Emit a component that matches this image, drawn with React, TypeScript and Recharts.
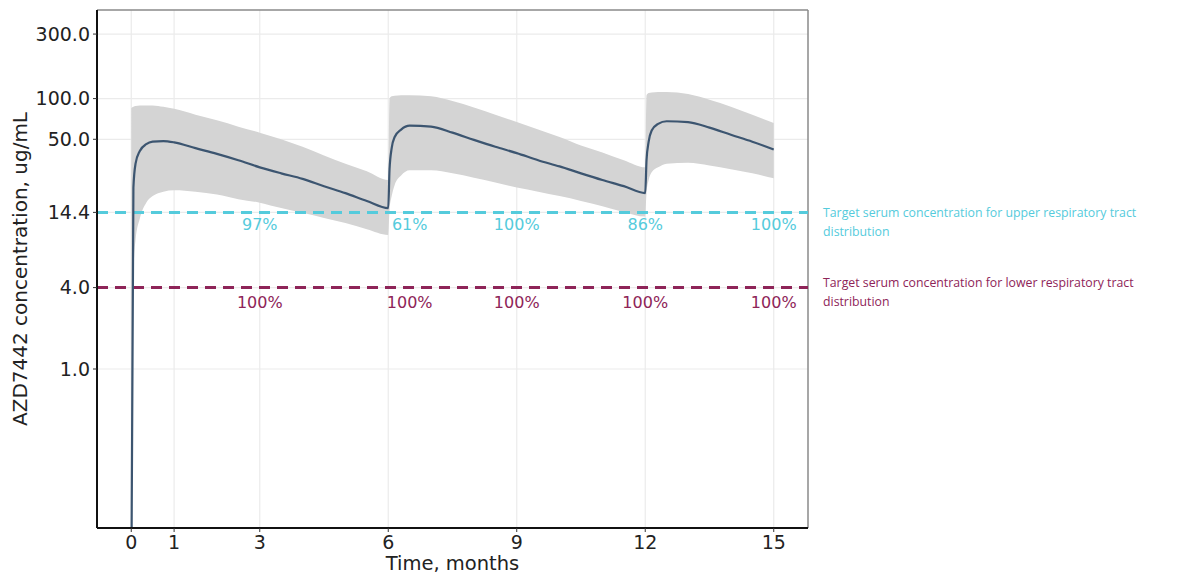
import React from 'react';
import {
  ComposedChart, Line, Area, XAxis, YAxis, CartesianGrid, ReferenceLine, ReferenceDot,
} from 'recharts';

const timeMonths = [
  0, 0.05, 0.1, 0.2, 0.35, 0.5, 0.75, 1, 1.5, 2, 2.5, 3, 3.5, 4, 4.5, 5, 5.5, 6,
  6.03, 6.08, 6.15, 6.3, 6.5, 7, 7.5, 8, 8.5, 9, 9.5, 10, 10.5, 11, 11.5, 12,
  12.03, 12.08, 12.15, 12.3, 12.5, 13, 13.5, 14, 14.5, 15,
];
const medianConc = [
  0.02, 22, 33, 41, 46, 48, 48.5, 47.5, 43, 39, 35, 31, 28, 25.5, 22.5, 20, 17.5, 15.5,
  30, 43, 52, 59, 63, 62, 56, 49.5, 44, 39.5, 35, 31.5, 28, 25, 22.5, 20,
  35, 48, 58, 65, 68, 67, 61, 54, 48, 42,
];
const lowerConc = [
  0.02, 5, 9, 13, 17, 19, 20.5, 21, 20.5, 19.5, 18, 17, 15.5, 14.3, 13.1, 12, 10.8, 9.8,
  15, 19, 23, 27, 29.5, 29.5, 28, 26, 24, 22, 20.5, 19, 17.5, 16, 14.5, 13.4,
  20, 25, 28.5, 31, 33, 33.5, 32, 30, 28, 25.7,
];
const upperConc = [
  85, 87, 88, 89, 89, 89, 87, 84, 76, 69, 62, 56, 50, 44, 38, 33, 29, 25,
  100, 104, 105, 106, 106, 104, 96, 86, 76, 67, 59, 52, 45, 40, 35, 31,
  106, 110, 111, 112, 112, 108, 98, 87, 76, 66,
];

const xTicks = [0, 1, 3, 6, 9, 12, 15];
const yTicks = [1, 4, 14.4, 50, 100, 300];
const upperTarget = 14.4;
const lowerTarget = 4;
const pctMonths = [3, 6.5, 9, 12, 15];
const upperTargetPct = ['97%', '61%', '100%', '86%', '100%'];
const lowerTargetPct = ['100%', '100%', '100%', '100%', '100%'];
const upperTargetText = ['Target serum concentration for upper respiratory tract', 'distribution'];
const lowerTargetText = ['Target serum concentration for lower respiratory tract', 'distribution'];

const data = timeMonths.map((t, i) => ({
  t,
  median: medianConc[i],
  band: [lowerConc[i], upperConc[i]],
}));

const CYAN = '#55cbdc';
const MAROON = '#8e2458';
const TICK_FONT = 'DejaVu Sans, sans-serif';
const SIDE_FONT = '"Open Sans", sans-serif';

const sideLabel = (lines: string[], color: string, dy0: number) => (props: any) => {
  const vb = props.viewBox || {};
  const x = (vb.x || 0) + (vb.width || 0) + 15;
  const y = vb.y || 0;
  return (
    <g>
      {lines.map((s, i) => (
        <text key={i} x={x} y={y + dy0 + i * 19} fill={color} fontSize={12.3}
          fontFamily={SIDE_FONT} dominantBaseline="central">{s}</text>
      ))}
    </g>
  );
};

export default function App() {
  return (
    <div style={{ position: 'absolute', left: 0, top: 0, background: '#fff' }}>
      <ComposedChart width={1192} height={575} data={data}
        margin={{ top: 10, right: 384, bottom: 0, left: 0 }}>
        <CartesianGrid stroke="#ebebeb" strokeWidth={1.2}
          horizontalValues={yTicks} verticalValues={xTicks} />
        <XAxis dataKey="t" type="number" domain={[-0.8, 15.8]} ticks={xTicks}
          allowDataOverflow height={47} interval={0}
          tick={{ fill: '#222', fontSize: 19, fontFamily: TICK_FONT }}
          tickLine={{ stroke: '#333' }} tickSize={4} tickMargin={4}
          axisLine={{ stroke: '#111', strokeWidth: 2 }}
          label={{
            content: (p: any) => {
              const vb = p.viewBox || {};
              return (
                <text x={vb.x + vb.width / 2} y={vb.y + 42} textAnchor="middle"
                  fill="#222" fontSize={19.5} fontFamily={TICK_FONT}>Time, months</text>
              );
            },
          }}
        />
        <YAxis type="number" scale="log" domain={[0.0667, 452]} ticks={yTicks}
          allowDataOverflow width={97} interval={0}
          tickFormatter={(v: number) => v.toFixed(1)}
          tick={{ fill: '#222', fontSize: 19, fontFamily: TICK_FONT }}
          tickLine={{ stroke: '#333' }} tickSize={4} tickMargin={3}
          axisLine={{ stroke: '#111', strokeWidth: 2 }}
          label={{
            content: (p: any) => {
              const vb = p.viewBox || {};
              const cx = 20;
              const cy = vb.y + vb.height / 2;
              return (
                <text x={cx} y={cy} textAnchor="middle" dominantBaseline="central"
                  transform={`rotate(-90 ${cx} ${cy})`}
                  fill="#222" fontSize={20} fontFamily={TICK_FONT}>AZD7442 concentration, ug/mL</text>
              );
            },
          }}
        />
        <Area dataKey="band" type="monotone" fill="#d4d4d4" fillOpacity={1} stroke="none"
          isAnimationActive={false} />
        <ReferenceLine y={452} stroke="#8a8a8a" strokeWidth={1.5} ifOverflow="visible" />
        <ReferenceLine x={15.8} stroke="#8a8a8a" strokeWidth={1.5} ifOverflow="visible" />
        <ReferenceLine y={upperTarget} stroke={CYAN} strokeWidth={3} strokeDasharray="11 7"
          ifOverflow="visible"
          label={{ content: sideLabel(upperTargetText, CYAN, 0) }} />
        <ReferenceLine y={lowerTarget} stroke={MAROON} strokeWidth={3} strokeDasharray="11 7"
          ifOverflow="visible"
          label={{ content: sideLabel(lowerTargetText, MAROON, -5) }} />
        {pctMonths.map((m, i) => (
          <ReferenceDot key={'u' + i} x={m} y={upperTarget} r={1} fill="none" stroke="none"
            label={{ value: upperTargetPct[i], position: 'bottom', offset: 5, fill: CYAN, fontSize: 16, fontFamily: TICK_FONT }} />
        ))}
        {pctMonths.map((m, i) => (
          <ReferenceDot key={'l' + i} x={m} y={lowerTarget} r={1} fill="none" stroke="none"
            label={{ value: lowerTargetPct[i], position: 'bottom', offset: 8, fill: MAROON, fontSize: 16, fontFamily: TICK_FONT }} />
        ))}
        <Line dataKey="median" type="monotone" stroke="#3c5570" strokeWidth={2.2} dot={false}
          isAnimationActive={false} />
      </ComposedChart>
    </div>
  );
}
